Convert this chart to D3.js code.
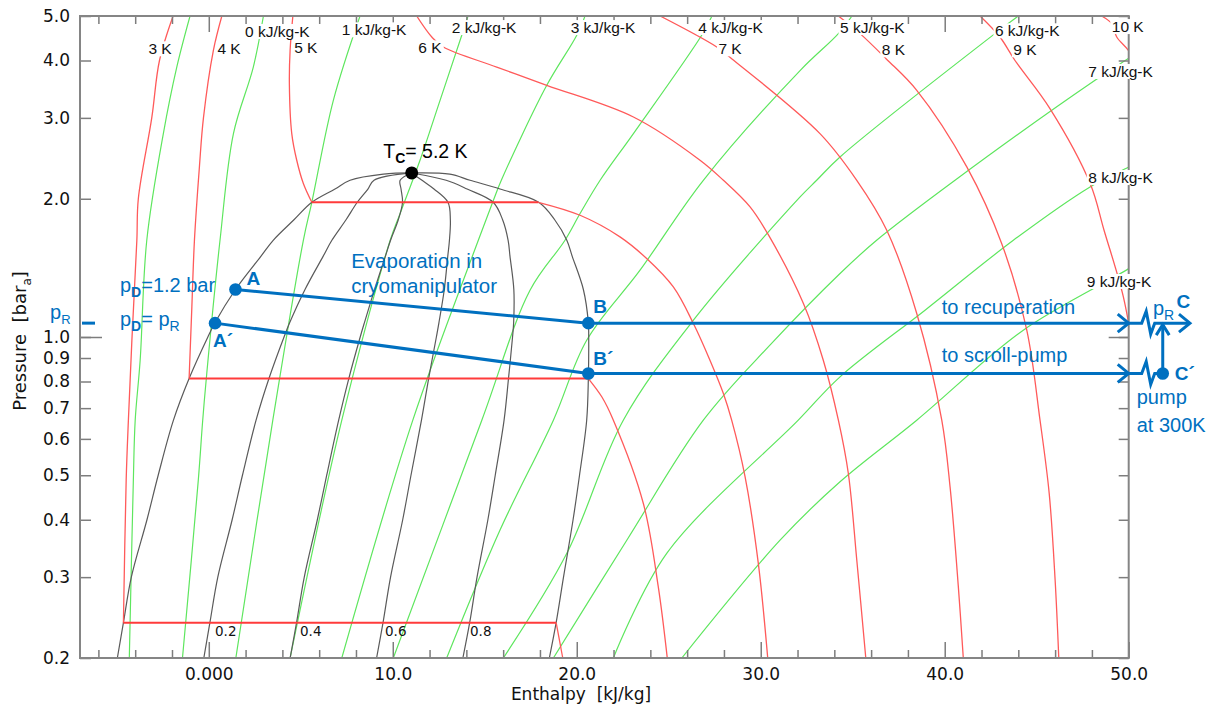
<!DOCTYPE html>
<html>
<head>
<meta charset="utf-8">
<script src="https://cdn.jsdelivr.net/npm/d3@7"></script>
<style>
  html, body { margin: 0; padding: 0; background: #fff; }
  svg { display: block; }
</style>
</head>
<body>
<svg id="chart" width="1220" height="709"></svg>
<script>
// ---------------- Helium p-h diagram data (enthalpy kJ/kg, pressure bar) ----------------

// Saturation dome
const satP       = [0.2, 0.2387, 0.3, 0.4, 0.5, 0.659, 0.812, 1.0, 1.075, 1.269, 1.5, 1.624, 1.8, 1.965, 2.1, 2.194, 2.262, 2.276];
const satLiquidH = [-4.97, -4.64, -4.21, -3.36, -2.75, -1.92, -1.07, -0.05, 0.34, 1.45, 2.84, 3.5, 4.63, 5.6, 6.86, 7.68, 9.49, 11.03];
const satVaporH  = [18.51, 18.88, 19.28, 19.8, 20.15, 20.54, 20.63, 20.65, 20.63, 20.36, 19.75, 19.46, 18.8, 17.93, 15.83, 14.2, 13.1, 11.03];
const criticalPoint = [11.03, 2.276];

// Lines of constant vapour quality
const qualityP  = [0.2, 0.2387, 0.3, 0.4, 0.5, 0.659, 0.812, 1.0, 1.075, 1.269, 1.5, 1.624, 1.8, 1.965, 2.1, 2.194, 2.276];
const quality02 = [-0.27, 0.06, 0.49, 1.27, 1.83, 2.57, 3.27, 4.09, 4.40, 5.23, 6.22, 6.69, 7.46, 8.07, 8.65, 8.98, 11.03];
const quality04 = [4.42, 4.77, 5.19, 5.90, 6.41, 7.06, 7.61, 8.23, 8.46, 9.01, 9.60, 9.88, 10.30, 10.53, 10.45, 10.4, 11.03];
const quality06 = [9.12, 9.47, 9.88, 10.54, 10.99, 11.56, 11.95, 12.37, 12.51, 12.80, 12.99, 13.08, 13.13, 13.00, 12.24, 11.59, 11.03];
const quality08 = [13.81, 14.18, 14.58, 15.17, 15.57, 16.05, 16.29, 16.51, 16.57, 16.58, 16.37, 16.27, 15.97, 15.46, 14.04, 12.90, 11.03];
const qualityNames = ["0.2", "0.4", "0.6", "0.8"];

// Isotherms: [liquid branch, two-phase plateau, vapour branch] as [h, p]
const iso3K = [
  [[-4.64,0.2387],[-4.49,0.488],[-4.37,0.659],[-4.18,0.984],[-3.91,1.624],[-3.83,2.0],[-3.10,3.0],[-2.68,4.0],[-1.94,5.0]],
  [[-4.64,0.2387],[18.88,0.2387]],
  [[18.88,0.2387],[19.24,0.2]]
];
const iso4K = [
  [[-1.07,0.812],[-0.92,1.163],[-0.78,1.624],[-0.51,2.346],[-0.29,3.0],[0.25,4.21],[0.71,5.0]],
  [[-1.07,0.812],[20.63,0.812]],
  [[20.63,0.812],[21.36,0.741],[21.99,0.659],[23.62,0.434],[24.43,0.286],[24.92,0.2]]
];
const iso5K = [
  [[5.6,1.965],[5.14,2.159],[4.78,2.426],[4.51,2.773],[4.38,3.56],[4.42,4.21],[4.57,5.0]],
  [[5.6,1.965],[17.91,1.965]],
  [[17.91,1.965],[20.18,1.841],[22.35,1.652],[23.80,1.482],[25.25,1.285],[26.34,1.070],[27.24,0.890],[27.97,0.753],[28.42,0.659],[29.15,0.496],[29.87,0.321],[30.38,0.2]]
];
const iso6K  = [[11.30,5.0],[12.12,4.50],[12.75,4.28],[15.65,3.871],[18.37,3.532],[23.08,3.013],[26.7,2.426],[27.97,2.194],[29.42,1.920],[30.45,1.66],[32.32,1.183],[33.40,0.890],[34.22,0.659],[34.76,0.505],[35.22,0.327],[35.71,0.2]];
const iso7K  = [[24.53,5.0],[27.61,4.28],[28.42,4.037],[33.22,2.773],[35.22,2.194],[36.85,1.708],[38.48,1.125],[39.84,0.659],[40.29,0.472],[40.74,0.286],[41.01,0.2]];
const iso8K  = [[34.22,5.0],[35.40,4.577],[36.81,4.037],[38.48,3.444],[41.2,2.346],[43.09,1.6],[44.46,1.035],[45.18,0.659],[45.68,0.456],[46.0,0.296],[46.2,0.2]];
const iso9K  = [[41.92,5.0],[43.0,4.50],[43.82,4.0],[45.72,3.143],[47.9,2.161],[48.66,1.708],[49.71,1.223],[50.3,0.9]];
const iso10K = [[48.53,5.0],[49.08,4.81],[49.35,4.50],[49.98,4.21],[50.3,4.0]];
const isothermNames = ["3 K", "4 K", "5 K", "6 K", "7 K", "8 K", "9 K", "10 K"];

// Isentropes (kJ/kg-K) as [h, p]
const sMinus1 = [[-1.02,5.0],[-1.74,3.87],[-2.47,2.773],[-3.37,1.624],[-3.73,0.890],[-4.0,0.659],[-4.10,0.488],[-4.32,0.2]];
const s0 = [[2.97,5.0],[2.42,3.87],[1.34,2.773],[0.61,1.624],[-0.11,0.833],[-0.33,0.659],[-0.57,0.488],[-1.43,0.2]];
const s1 = [[8.22,5.0],[6.77,3.276],[5.6,1.965],[5.14,1.624],[3.48,0.659],[1.47,0.2]];
const s2 = [[14.09,5.0],[13.75,4.54],[12.57,3.276],[11.48,2.426],[10.40,1.857],[9.86,1.624],[7.23,0.659],[4.42,0.2]];
const s3 = [[20.45,5.0],[20.0,4.54],[18.37,3.532],[15.9,2.194],[15.47,1.985],[14.65,1.624],[11.09,0.659],[7.23,0.2]];
const s4 = [[27.35,5.0],[26.79,4.54],[23.08,2.773],[21.27,2.194],[20.18,1.857],[19.36,1.624],[17.46,1.264],[14.84,0.659],[10.03,0.2]];
const s5 = [[34.96,5.0],[34.22,4.577],[32.15,3.808],[26.88,2.194],[23.44,1.398],[20.54,0.984],[18.73,0.659],[15.83,0.38],[12.93,0.2]];
const s6 = [[44.0,5.0],[42.73,4.577],[34.31,2.466],[33.04,2.194],[32.14,2.018],[26.34,1.088],[22.53,0.659],[19.46,0.338],[16.01,0.2]];
const s7 = [[50.61,4.197],[50.0,4.044],[48.17,3.622],[40.56,2.194],[36.3,1.624],[34.31,1.375],[30.5,0.96],[26.88,0.659],[22.72,0.361],[18.73,0.2]];
const s8 = [[50.61,2.418],[50.0,2.346],[47.9,2.122],[43.73,1.624],[38.93,1.144],[34.31,0.819],[32.04,0.659],[24.89,0.338],[21.99,0.2]];
const s9 = [[50.61,1.47],[50.0,1.409],[44.27,1.035],[38.48,0.659],[34.31,0.484],[31.05,0.361],[25.71,0.2]];
const isentropeNames = ["0 kJ/kg-K","1 kJ/kg-K","2 kJ/kg-K","3 kJ/kg-K","4 kJ/kg-K","5 kJ/kg-K","6 kJ/kg-K","7 kJ/kg-K","8 kJ/kg-K","9 kJ/kg-K"];

// Process states
const pR = 1.072;
const stateA  = [1.45, 1.269];
const stateA2 = [0.34, pR];
const stateB  = [20.63, pR];
const stateB2 = [20.63, 0.833];
const stateC2H = 51.85;
const outletEndH = 53.33;

// Axis ticks
const hMajorTicks = [0, 10, 20, 30, 40, 50];
const hTickLabels = ["0.000", "10.0", "20.0", "30.0", "40.0", "50.0"];
const hMinorTicks = [-6,-4,-2,2,4,6,8,12,14,16,18,22,24,26,28,32,34,36,38,42,44,46,48];
const pTicks      = [0.2, 0.3, 0.4, 0.5, 0.6, 0.7, 0.8, 0.9, 1.0, 2.0, 3.0, 4.0, 5.0];
const pTickLabels = ["0.2","0.3","0.4","0.5","0.6","0.7","0.8","0.9","1.0","2.0","3.0","4.0","5.0"];

// ---------------- layout ----------------
const plot = { left: 80, right: 1128.7, top: 16, bottom: 658 };
const x = d3.scaleLinear().domain([-7, 50]).range([plot.left, plot.right]);
const y = d3.scaleLog().domain([0.2, 5]).range([plot.bottom, plot.top]);

// label anchors (left edge / baseline) in diagram units
const isothermLabelAt  = [[-3.28,4.126],[0.47,4.126],[4.64,4.146],[11.39,4.146],[27.70,4.126],[36.58,4.105],[43.73,4.105],[49.08,4.613]];
const isentropeLabelAt = [[1.97,4.50],[7.23,4.538],[13.21,4.59],[19.67,4.59],[26.61,4.59],[34.31,4.59],[42.73,4.516],[47.80,3.683],[47.80,2.164],[47.72,1.285]];
const qualityLabelAt   = [[0.34,0.2233],[4.96,0.2233],[9.58,0.2233],[14.20,0.2233]];

const RED = "#ff5a5a", RED_DARK = "#ff3b3b", GREEN = "#5ee65e", GREY = "#5a5a5a", BLUE = "#0070c0";
const SANS = "'Liberation Sans', Arial, sans-serif";
const AXISFONT = "'DejaVu Sans', Verdana, sans-serif";

const svg = d3.select("#chart");

svg.append("defs").append("clipPath").attr("id", "plotClip")
  .append("rect")
  .attr("x", plot.left).attr("y", plot.top)
  .attr("width", plot.right - plot.left).attr("height", plot.bottom - plot.top);

const smooth = d3.line().x(d => x(d[0])).y(d => y(d[1])).curve(d3.curveCatmullRom.alpha(0.5));
const straight = d3.line().x(d => x(d[0])).y(d => y(d[1]));

const curves = svg.append("g").attr("clip-path", "url(#plotClip)").attr("fill", "none");

// isentropes
[sMinus1, s0, s1, s2, s3, s4, s5, s6, s7, s8, s9].forEach(s => {
  curves.append("path").attr("d", smooth(s)).attr("stroke", GREEN).attr("stroke-width", 1.2);
});

// saturation dome and quality lines
const liquidBranch = satP.map((p, i) => [satLiquidH[i], p]);
const vaporBranch = satP.map((p, i) => [satVaporH[i], p]).reverse().slice(1);
curves.append("path").attr("d", smooth(liquidBranch.concat(vaporBranch)))
  .attr("stroke", GREY).attr("stroke-width", 1.2);
[quality02, quality04, quality06, quality08].forEach(q => {
  curves.append("path").attr("d", smooth(qualityP.map((p, i) => [q[i], p])))
    .attr("stroke", GREY).attr("stroke-width", 1.2);
});

// isotherms
[iso3K, iso4K, iso5K].forEach(t => {
  curves.append("path").attr("d", smooth(t[0])).attr("stroke", RED).attr("stroke-width", 1.3);
  curves.append("path").attr("d", straight(t[1])).attr("stroke", RED_DARK).attr("stroke-width", 2);
  curves.append("path").attr("d", smooth(t[2])).attr("stroke", RED).attr("stroke-width", 1.3);
});
[iso6K, iso7K, iso8K, iso9K, iso10K].forEach(t => {
  curves.append("path").attr("d", smooth(t)).attr("stroke", RED).attr("stroke-width", 1.3);
});

// ---------------- axes ----------------
function styleAxis(g) {
  g.select(".domain").remove();
  g.selectAll(".tick line").attr("stroke", "#7d7d7d").attr("stroke-width", 1.5);
  g.attr("font-family", AXISFONT).attr("font-size", 17).attr("color", "#111");
  g.selectAll(".tick text").attr("fill", "#111");
}
svg.append("g").attr("transform", `translate(0,${plot.bottom})`)
  .call(d3.axisBottom(x).tickValues(hMinorTicks).tickSize(-8).tickFormat("")).call(styleAxis);
svg.append("g").attr("transform", `translate(0,${plot.bottom})`)
  .call(d3.axisBottom(x).tickValues(hMajorTicks).tickSize(-16).tickPadding(10)
    .tickFormat(d => hTickLabels[hMajorTicks.indexOf(d)])).call(styleAxis);
svg.append("g").attr("transform", `translate(0,${plot.top})`)
  .call(d3.axisTop(x).tickValues(hMinorTicks).tickSize(-8).tickFormat("")).call(styleAxis);
svg.append("g").attr("transform", `translate(0,${plot.top})`)
  .call(d3.axisTop(x).tickValues(hMajorTicks).tickSize(-16).tickFormat("")).call(styleAxis);
svg.append("g").attr("transform", `translate(${plot.left},0)`)
  .call(d3.axisLeft(y).tickValues(pTicks).tickSize(-11).tickPadding(10)
    .tickFormat(d => pTickLabels[pTicks.indexOf(d)])).call(styleAxis);
svg.append("g").attr("transform", `translate(${plot.left},0)`)
  .call(d3.axisLeft(y).tickValues([1.0]).tickSize(-22).tickFormat("")).call(styleAxis);
svg.append("g").attr("transform", `translate(${plot.right},0)`)
  .call(d3.axisRight(y).tickValues(pTicks).tickSize(-10).tickFormat("")).call(styleAxis);
svg.append("g").attr("transform", `translate(${plot.right},0)`)
  .call(d3.axisRight(y).tickValues([1.0]).tickSize(-20).tickFormat("")).call(styleAxis);

svg.append("rect")
  .attr("x", plot.left).attr("y", plot.top)
  .attr("width", plot.right - plot.left).attr("height", plot.bottom - plot.top)
  .attr("fill", "none").attr("stroke", "#858585").attr("stroke-width", 2);

// axis titles
svg.append("text")
  .attr("x", 581).attr("y", 700).attr("text-anchor", "middle")
  .attr("font-family", AXISFONT).attr("font-size", 17).attr("fill", "#111")
  .attr("xml:space", "preserve")
  .text("Enthalpy  [kJ/kg]");
const yTitle = svg.append("text")
  .attr("transform", "translate(26,341) rotate(-90)").attr("text-anchor", "middle")
  .attr("font-family", AXISFONT).attr("font-size", 18).attr("fill", "#111")
  .attr("xml:space", "preserve");
yTitle.append("tspan").text("Pressure  [bar");
yTitle.append("tspan").attr("font-size", 12).attr("dy", 5).text("a");
yTitle.append("tspan").attr("dy", -5).text("]");

// ---------------- curve labels ----------------
function boxedLabel(g, text, at, size, font) {
  const t = g.append("text")
    .attr("x", x(at[0])).attr("y", y(at[1]))
    .attr("font-family", font).attr("font-size", size).attr("fill", "#111")
    .text(text);
  const b = t.node().getBBox();
  g.insert("rect", () => t.node())
    .attr("x", b.x - 1.5).attr("y", b.y + 1).attr("width", b.width + 3).attr("height", b.height - 2)
    .attr("fill", "#fff");
}
const labels = svg.append("g");
isothermNames.forEach((n, i) => boxedLabel(labels, n, isothermLabelAt[i], 15.5, SANS));
isentropeNames.forEach((n, i) => boxedLabel(labels, n, isentropeLabelAt[i], 15.5, SANS));
qualityNames.forEach((n, i) => {
  labels.append("text")
    .attr("x", x(qualityLabelAt[i][0])).attr("y", y(qualityLabelAt[i][1]))
    .attr("font-family", AXISFONT).attr("font-size", 13.5).attr("fill", "#111")
    .text(n);
});

// critical point
const cpx = x(criticalPoint[0]), cpy = y(criticalPoint[1]);
svg.append("circle").attr("cx", cpx).attr("cy", cpy).attr("r", 6.5).attr("fill", "#000");
const tc = svg.append("text")
  .attr("x", cpx - 28.5).attr("y", cpy - 14.5)
  .attr("font-family", SANS).attr("font-size", 19.5).attr("fill", "#000");
tc.append("tspan").text("T");
tc.append("tspan").attr("font-size", 14).attr("font-weight", 700).attr("dy", 5).text("C");
tc.append("tspan").attr("dy", -5).text("= 5.2 K");

// ---------------- process annotations ----------------
const ann = svg.append("g").attr("fill", "none").attr("stroke", BLUE)
  .attr("stroke-width", 3).attr("stroke-linejoin", "miter").attr("stroke-linecap", "butt");

const ax = x(stateA[0]), ay = y(stateA[1]);
const a2x = x(stateA2[0]), a2y = y(stateA2[1]);
const bx = x(stateB[0]), by = y(stateB[1]);
const b2x = x(stateB2[0]), b2y = y(stateB2[1]);
const edge = x(50), c2x = x(stateC2H), endX = x(outletEndH);

// evaporation paths
ann.append("path").attr("d", `M${ax},${ay}L${bx},${by}`);
ann.append("path").attr("d", `M${a2x},${a2y}L${b2x},${b2y}`);

// outlet lines with arrowheads and break marks
const chevronRight = (px, py) => `M${px - 11},${py - 9}L${px},${py}L${px - 11},${py + 9}`;
const breakMark = (px, py) => `L${px + 13},${py}L${px + 17.5},${py - 12}L${px + 22},${py + 11}L${px + 26},${py}`;

ann.append("path").attr("d", `M${bx},${by}H${edge}`);
ann.append("path").attr("d", chevronRight(edge, by));
ann.append("path").attr("d", `M${edge},${by}${breakMark(edge, by)}H${endX}`);
ann.append("path").attr("d", chevronRight(endX, by));

ann.append("path").attr("d", `M${b2x},${b2y}H${edge}`);
ann.append("path").attr("d", chevronRight(edge, b2y));
ann.append("path").attr("d", `M${edge},${b2y}${breakMark(edge, b2y)}H${c2x}`);

// pump raises C' to pR
ann.append("path").attr("d", `M${c2x},${b2y}V${by + 1.5}`);
ann.append("path").attr("d", `M${c2x - 6.5},${by + 12}L${c2x},${by + 1.5}L${c2x + 6.5},${by + 12}`);

// state dots
const dots = svg.append("g").attr("fill", BLUE);
[[ax, ay], [a2x, a2y], [bx, by], [b2x, b2y], [c2x, b2y]].forEach(d => {
  dots.append("circle").attr("cx", d[0]).attr("cy", d[1]).attr("r", 6.3);
});

// annotation text
const txt = svg.append("g").attr("font-family", SANS).attr("fill", BLUE).attr("font-size", 20);
function bold(t, px, py) {
  txt.append("text").attr("x", px).attr("y", py).attr("font-weight", 700).attr("font-size", 19).text(t);
}
bold("A", ax + 11, ay - 4.5);
bold("A\u00B4", a2x - 2, a2y + 24);
bold("B", bx + 5, by - 10);
bold("B\u00B4", bx + 5, b2y - 8.5);
bold("C", endX - 13.5, by - 15);
bold("C\u00B4", c2x + 12, b2y + 6.5);

function subText(px, py, parts, subSize) {
  const t = txt.append("text").attr("x", px).attr("y", py).attr("xml:space", "preserve");
  parts.forEach(p => {
    const s = t.append("tspan").text(p.t);
    if (p.sub) s.attr("font-size", subSize || 14).attr("dy", 5).attr("font-weight", p.bold ? 700 : 400);
    if (p.up) s.attr("dy", -5);
  });
}
subText(ax - 115.5, ay + 3, [{t: "p"}, {t: "D", sub: true, bold: true}, {t: "=1.2 bar", up: true}]);
subText(ax - 115.5, a2y + 2.5, [{t: "p"}, {t: "D", sub: true, bold: true}, {t: "= p", up: true}, {t: "R", sub: true}]);
subText(plot.left - 30, y(pR) - 4.5, [{t: "p"}, {t: "R", sub: true}], 13);
subText(endX - 37, by - 8, [{t: "p"}, {t: "R", sub: true}]);

// pR marker on the pressure axis
svg.append("path").attr("d", `M${plot.left + 2},${y(pR)}H${plot.left + 15}`)
  .attr("stroke", BLUE).attr("stroke-width", 3);

txt.append("text").attr("x", x(7.74)).attr("y", y(1.41)).attr("font-size", 20.5).text("Evaporation in");
txt.append("text").attr("x", x(7.74)).attr("y", y(1.41) + 25).attr("font-size", 20.5).text("cryomanipulator");
txt.append("text").attr("x", x(39.84)).attr("y", by - 9.5).text("to recuperation");
txt.append("text").attr("x", x(39.84)).attr("y", b2y - 11).text("to scroll-pump");
txt.append("text").attr("x", c2x - 26).attr("y", b2y + 30.5).text("pump");
txt.append("text").attr("x", c2x - 26).attr("y", b2y + 58.5).text("at 300K");
</script>
</body>
</html>
